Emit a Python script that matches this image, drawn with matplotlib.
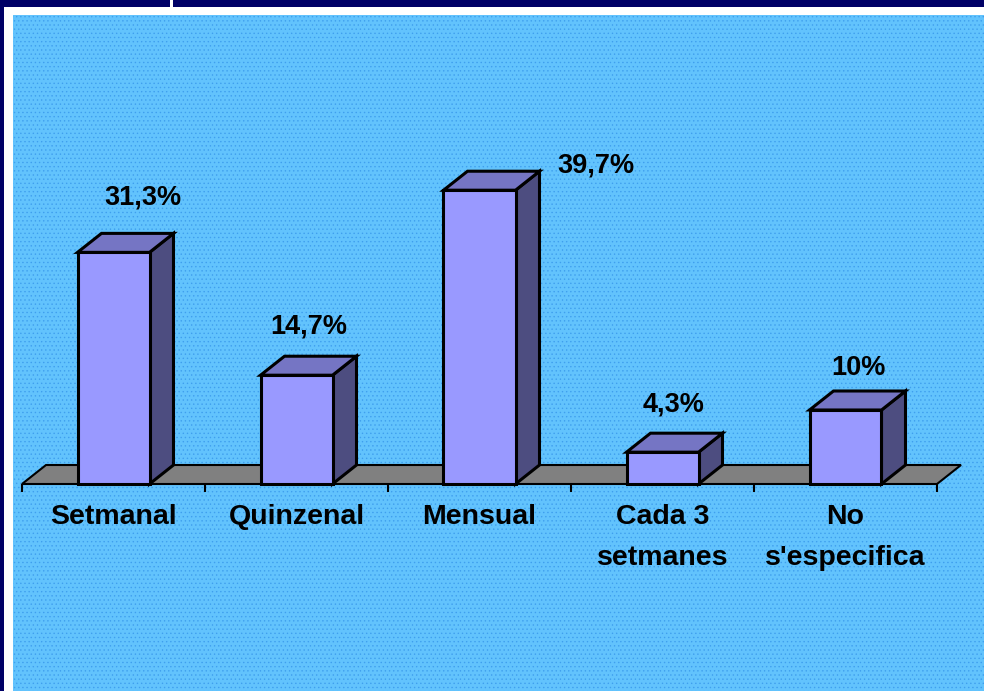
import matplotlib.pyplot as plt
from matplotlib.patches import Rectangle, Polygon

# data
categories = ["Setmanal", "Quinzenal", "Mensual", "Cada 3\nsetmanes", "No\ns'especifica"]
percent = [31.3, 14.7, 39.7, 4.3, 10]

# label offsets from the bar's front-top centre, in pixels
label_offsets = [(29, 55), (12, 49), (116, 25), (11, 48), (13, 42)]

W, H = 984, 691
fig = plt.figure(figsize=(W / 100, H / 100), dpi=100)
fig.patch.set_facecolor("#000066")

# slide frame: white border and dotted blue panel
fig.add_artist(Rectangle((4 / W, 0), 1, (H - 7) / H, transform=fig.transFigure,
                         facecolor="white", edgecolor="none", zorder=-5))
fig.add_artist(Rectangle((170 / W, (H - 7) / H), 3 / W, 7 / H, transform=fig.transFigure,
                         facecolor="white", edgecolor="none", zorder=-5))
plt.rcParams["hatch.color"] = "#3f9fee"
plt.rcParams["hatch.linewidth"] = 0.5
fig.add_artist(Rectangle((13 / W, 0), 1, (H - 15) / H, transform=fig.transFigure,
                         facecolor="#62C3FD", edgecolor=None, lw=0, hatch="....", zorder=-4))

ax = fig.add_axes([0, 0, 1, 1])
ax.axis("off")
ax.patch.set_alpha(0)

# pixel mapping: category step 183 px, 7.4 px per percent point
x0, step, base, ppu = 22, 183, 484, 7.4
ax.set_xlim(-x0 / step, (W - x0) / step)
ax.set_ylim(-(H - base) / ppu, base / ppu)

ddx = 24 / step       # depth offset
ddy = 19 / ppu
w = 72 / step
n = len(categories)

# floor
ax.add_patch(Polygon([(0, 0), (n, 0), (n + ddx, ddy), (ddx, ddy)], closed=True,
                     facecolor="#808080", edgecolor="black", lw=1.5, zorder=2))
ax.vlines(range(n + 1), -8 / ppu, 0, color="black", lw=1.5, zorder=2)

for i, (cat, v) in enumerate(zip(categories, percent)):
    left = i + 0.5 - w / 2
    ax.add_patch(Polygon([(left + w, 0), (left + w + ddx, ddy), (left + w + ddx, v + ddy), (left + w, v)],
                         closed=True, facecolor="#4D4D80", edgecolor="black", lw=2.2, zorder=3))
    ax.add_patch(Polygon([(left, v), (left + w, v), (left + w + ddx, v + ddy), (left + ddx, v + ddy)],
                         closed=True, facecolor="#7575C4", edgecolor="black", lw=2.2, zorder=3))
    ax.add_patch(Rectangle((left, 0), w, v, facecolor="#9999FF", edgecolor="black", lw=2.2, zorder=4))

    txt = f"{v:g}".replace(".", ",") + "%"
    ox, oy = label_offsets[i]
    ax.annotate(txt, (i + 0.5, v), xytext=(ox, oy), textcoords="offset pixels",
                ha="center", va="center", fontsize=19.5, fontweight="bold",
                family="Liberation Sans", color="black", zorder=5)

    ax.text(i + 0.5, -20 / ppu, cat, ha="center", va="top", fontsize=20.5,
            fontweight="bold", family="Liberation Sans", linespacing=1.75, zorder=5)

fig.savefig("out.png", dpi=100, facecolor=fig.get_facecolor())
